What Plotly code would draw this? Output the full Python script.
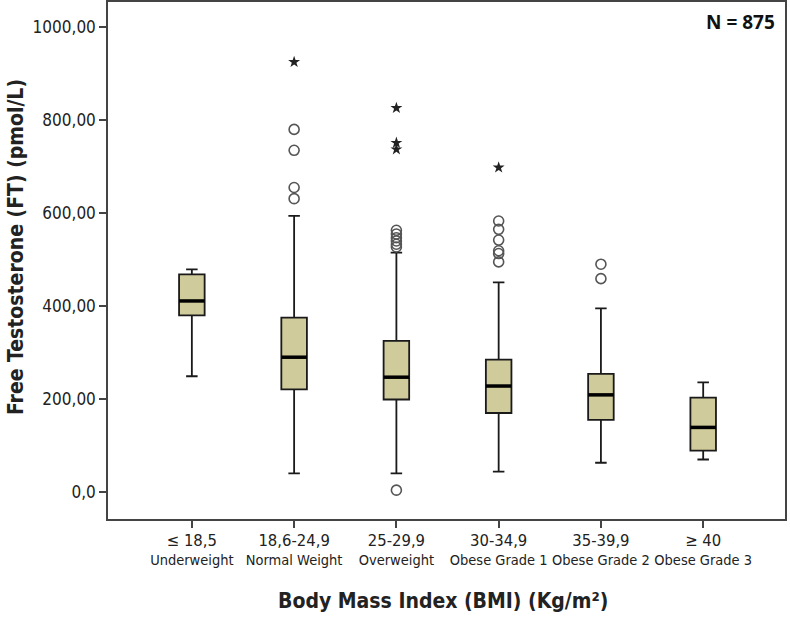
import plotly.graph_objects as go

range_labels = ["≤ 18,5", "18,6-24,9", "25-29,9", "30-34,9", "35-39,9", "≥ 40"]
class_labels = ["Underweight", "Normal Weight", "Overweight",
                "Obese Grade 1", "Obese Grade 2", "Obese Grade 3"]
lower_whisker = [249, 40, 40, 44, 63, 70]
q1 = [380, 221, 199, 170, 155, 89]
median = [411, 290, 247, 228, 209, 139]
q3 = [468, 375, 325, 285, 254, 203]
upper_whisker = [479, 594, 515, 451, 395, 236]

# outliers (circles) and extremes (stars) per category index
outlier_cat = [1, 1, 1, 1, 2, 2, 2, 2, 2, 2, 2, 3, 3, 3, 3, 3, 3, 4, 4]
outlier_val = [780, 735, 655, 631, 563, 555, 547, 540, 533, 527, 4, 583, 565, 542, 519, 513, 495, 490, 459]
extreme_cat = [1, 2, 2, 2, 3]
extreme_val = [925, 826, 751, 737, 698]

ytick_vals = [0, 200, 400, 600, 800, 1000]
ytick_text = ["0,0", "200,00", "400,00", "600,00", "800,00", "1000,00"]

box_w = 0.25
xs = list(range(len(range_labels)))
tick_text = [f"<span style='font-size:16.5px'>{a}</span><br>{b}" for a, b in zip(range_labels, class_labels)]

fig = go.Figure()
fig.add_trace(go.Box(
    x=xs, q1=q1, median=median, q3=q3,
    lowerfence=lower_whisker, upperfence=upper_whisker,
    width=box_w, whiskerwidth=0.45,
    fillcolor="#cfcb9a", line=dict(color="#1a1a1a", width=1.8),
    boxpoints=False, showlegend=False, hoverinfo="skip"
))

# thick median lines
mx, my = [], []
for x, m in zip(xs, median):
    mx += [x - box_w / 2, x + box_w / 2, None]
    my += [m, m, None]
fig.add_trace(go.Scatter(x=mx, y=my, mode="lines", line=dict(color="black", width=3.5),
                         showlegend=False, hoverinfo="skip"))

fig.add_trace(go.Scatter(x=outlier_cat, y=outlier_val, mode="markers",
                         marker=dict(symbol="circle-open", size=10, color="#555555",
                                     line=dict(width=1.6, color="#555555")),
                         showlegend=False, hoverinfo="skip"))
fig.add_trace(go.Scatter(x=extreme_cat, y=extreme_val, mode="markers",
                         marker=dict(symbol="star", size=9, color="#222222"),
                         showlegend=False, hoverinfo="skip"))

FAM = "DejaVu Sans Condensed, Liberation Sans Narrow, sans-serif"
tick_font = dict(family=FAM, size=14.5, color="#222222")
title_font = dict(family=FAM, size=21, color="#222222")

fig.update_layout(
    width=790, height=618,
    margin=dict(l=108, r=5, t=2, b=99, autoexpand=False),
    paper_bgcolor="white", plot_bgcolor="white",
    xaxis=dict(range=[-0.82, 5.80], tickvals=xs, ticktext=tick_text, tickangle=0,
               automargin=False, ticklabelstandoff=1,
               showline=True, mirror=True, linecolor="#444444", linewidth=1.5,
               ticks="outside", ticklen=7, tickcolor="#444444", tickwidth=1.5,
               showgrid=False, zeroline=False, tickfont=tick_font),
    yaxis=dict(range=[-58, 1054], tickvals=ytick_vals, ticktext=ytick_text,
               automargin=False,
               showline=True, mirror=True, linecolor="#444444", linewidth=1.5,
               ticks="outside", ticklen=7, tickcolor="#444444", tickwidth=1.5,
               showgrid=False, zeroline=False, tickfont=dict(tick_font, size=17)),
    annotations=[
        dict(text="<b>Free Testosterone (FT) (pmol/L)</b>", textangle=-90,
             xref="paper", yref="paper", x=-0.136, y=0.526, xanchor="center", yanchor="middle",
             showarrow=False, font=title_font),
        dict(text="<b>Body Mass Index (BMI) (Kg/m²)</b>",
             xref="paper", yref="paper", x=0.495, y=-0.158, xanchor="center", yanchor="middle",
             showarrow=False, font=title_font),
        dict(text="<b>N = 875</b>", xref="paper", yref="paper", x=0.988, y=0.961,
             xanchor="right", yanchor="middle", showarrow=False,
             font=dict(family="Open Sans, sans-serif", size=19, color="#111111")),
    ],
)

fig.write_html("out.html", config={"displayModeBar": False},
               post_script="document.body.style.margin='0';document.body.style.overflow='hidden';")
